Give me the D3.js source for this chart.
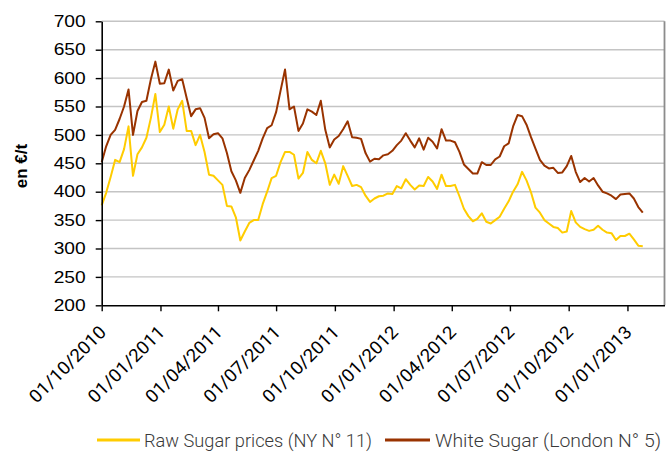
<!DOCTYPE html>
<html>
<head>
<meta charset="utf-8">
<script src="https://cdn.jsdelivr.net/npm/d3@7"></script>
<style>
  body { margin: 0; background: #fff; }
  svg { display: block; }
</style>
</head>
<body>
<svg id="chart" width="667" height="453"></svg>
<script>
// weekly prices, first week starting 01/10/2010 (en €/t)
const startDate = new Date(2010, 9, 1);

const rawSugar = [
  376, 398, 426, 456, 452, 475, 515, 428, 466, 478,
  495, 530, 572, 505, 518, 550, 511, 545, 560, 507,
  507, 482, 500, 470, 430, 428, 420, 412, 375, 374,
  355, 314, 330, 345, 350, 350, 378, 400, 424, 428,
  452, 470, 470, 465, 423, 433, 470, 456, 450, 472,
  450, 412, 430, 414, 445, 428, 410, 412, 408, 393,
  382, 388, 392, 393, 397, 396, 410, 406, 422, 412,
  404, 411, 410, 426, 418, 405, 430, 410, 410, 412,
  392, 370, 357, 348, 352, 362, 347, 344, 350, 356,
  370, 383, 400, 413, 435, 420, 399, 372, 363, 350,
  344, 338, 336, 328, 330, 366, 346, 338, 334, 331,
  333, 340, 333, 328, 327, 315, 322, 322, 326, 316,
  305, 304
];

const whiteSugar = [
  452, 480, 500, 509, 528, 550, 580, 500, 542, 558,
  560, 598, 629, 590, 591, 615, 578, 595, 598, 565,
  533, 545, 547, 530, 494, 501, 503, 494, 468, 436,
  420, 398, 424, 438, 455, 472, 494, 512, 517, 540,
  578, 615, 545, 550, 507, 520, 545, 541, 535, 560,
  509, 478, 492, 498, 510, 524, 496, 495, 493, 468,
  453, 458, 457, 464, 466, 472, 482, 490, 503, 490,
  478, 494, 474, 495, 488, 476, 510, 490, 490, 487,
  470, 448, 440, 432, 432, 452, 447, 447, 457, 462,
  480, 485, 515, 535, 533, 518, 496, 476, 456, 446,
  441, 442, 433, 434, 445, 463, 435, 417, 424, 418,
  424, 411, 400, 397, 393, 387, 395, 396, 397, 388,
  373, 363
];

const seriesNames = ['Raw Sugar prices (NY N° 11)', 'White Sugar (London N° 5)'];
const seriesColors = ['#ffcc00', '#993300'];

const yTicks = [200, 250, 300, 350, 400, 450, 500, 550, 600, 650, 700];
const xTickLabels = ['01/10/2010', '01/01/2011', '01/04/2011', '01/07/2011', '01/10/2011',
  '01/01/2012', '01/04/2012', '01/07/2012', '01/10/2012', '01/01/2013'];

const parse = d3.timeParse('%d/%m/%Y');
const fmt = d3.timeFormat('%d/%m/%Y');

const size = { left: 101.7, right: 664.5, top: 21.3, bottom: 305.3 };

const svg = d3.select('#chart');

const xScale = d3.scaleTime()
  .domain([parse('01/10/2010'), parse('28/02/2013')])
  .range([size.left, size.right]);

const yScale = d3.scaleLinear()
  .domain([200, 700])
  .range([size.bottom, size.top]);

const dates = rawSugar.map((d, i) => d3.timeDay.offset(startDate, 7 * i));

// grid
svg.append('g').attr('class', 'grid')
  .selectAll('line')
  .data(yTicks.filter(d => d > 200))
  .enter()
  .append('line')
  .attr('x1', size.left)
  .attr('x2', size.right)
  .attr('y1', d => yScale(d))
  .attr('y2', d => yScale(d))
  .attr('stroke', '#c4c4c4')
  .attr('stroke-width', 1.4)

// right border of the plot area
svg.append('line')
  .attr('x1', size.right).attr('x2', size.right)
  .attr('y1', size.top).attr('y2', size.bottom)
  .attr('stroke', '#8c8c8c')
  .attr('stroke-width', 1.8)

// lines
const line = d3.line()
  .x((d, i) => xScale(dates[i]))
  .y(d => yScale(d));

[rawSugar, whiteSugar].forEach((values, k) => {
  svg.append('path')
    .datum(values)
    .attr('fill', 'none')
    .attr('stroke', seriesColors[k])
    .attr('stroke-width', 2)
    .attr('stroke-linejoin', 'round')
    .attr('d', line)
});

// y axis
const yAxis = svg.append('g')
  .attr('class', 'y axis')
  .attr('transform', 'translate(' + size.left + ',0)')
  .call(d3.axisLeft(yScale).tickValues(yTicks).tickSize(6).tickPadding(10).tickSizeOuter(0))

yAxis.select('.domain').attr('stroke', '#000').attr('stroke-width', 1.6)
yAxis.selectAll('.tick line').attr('stroke', '#000').attr('stroke-width', 1.4)
yAxis.selectAll('.tick text')
  .attr('font-family', 'Liberation Sans, Arial, sans-serif')
  .attr('font-size', 16)
  .attr('fill', '#000')
  .attr('textLength', 32)
  .attr('lengthAdjust', 'spacingAndGlyphs')

// x axis
const xAxis = svg.append('g')
  .attr('class', 'x axis')
  .attr('transform', 'translate(0,' + size.bottom + ')')
  .call(d3.axisBottom(xScale).tickValues(xTickLabels.map(parse)).tickFormat(fmt).tickSize(6).tickSizeOuter(0))

xAxis.select('.domain').attr('stroke', '#000').attr('stroke-width', 1.6)
xAxis.selectAll('.tick line').attr('stroke', '#000').attr('stroke-width', 1.4)
xAxis.selectAll('.tick text')
  .attr('font-family', 'Roboto, sans-serif')
  .attr('font-size', 18)
  .attr('fill', '#000')
  .attr('text-anchor', 'end')
  .attr('dy', null)
  .attr('y', 0)
  .attr('textLength', 100)
  .attr('lengthAdjust', 'spacingAndGlyphs')
  .attr('transform', 'translate(5,28) rotate(-45)')

// y label
svg.append('text')
  .text('en €/t')
  .attr('transform', 'translate(27,166) rotate(-90)')
  .attr('text-anchor', 'middle')
  .attr('font-family', 'Liberation Sans, Arial, sans-serif')
  .attr('font-size', 17)
  .attr('font-weight', 'bold')

// legend
const legendPos = [{ x1: 97, x2: 140, tx: 144, w: 228 }, { x1: 385, x2: 430, tx: 435, w: 226 }];
const legend = svg.append('g').attr('class', 'legend')
seriesNames.forEach((name, k) => {
  legend.append('line')
    .attr('x1', legendPos[k].x1).attr('x2', legendPos[k].x2)
    .attr('y1', 440).attr('y2', 440)
    .attr('stroke', seriesColors[k])
    .attr('stroke-width', 3)
  legend.append('text')
    .text(name)
    .attr('x', legendPos[k].tx)
    .attr('y', 447)
    .attr('font-family', 'Roboto, sans-serif')
    .attr('font-weight', 300)
    .attr('font-size', 19)
    .attr('fill', '#3a3a3a')
    .attr('textLength', legendPos[k].w)
    .attr('lengthAdjust', 'spacingAndGlyphs')
});
</script>
</body>
</html>
